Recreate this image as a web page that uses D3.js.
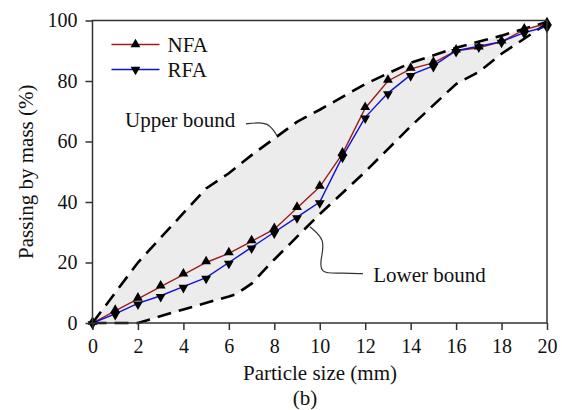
<!DOCTYPE html>
<html>
<head>
<meta charset="utf-8">
<script src="https://cdn.jsdelivr.net/npm/d3@7"></script>
<style>
    body { margin: 0; background: #fff; }
    text { font-family: "Liberation Serif", "Times New Roman", serif; fill: #111; }
</style>
</head>
<body>
<div id="chart"></div>
<script>
// particle sizes (mm)
let sizes = d3.range(0, 21);

// passing by mass (%)
let nfa = [0, 4, 8, 12, 16, 20, 23, 27, 31, 38, 45, 56, 71, 80, 84, 86, 90, 91, 93, 97, 99];
let rfa = [0, 3, 6.5, 9, 12, 15, 20, 25, 30, 35, 40, 55, 68, 76, 82, 85, 90, 91.5, 93, 96, 98];

// grading envelope
let upperX = [0, 2, 5, 6, 7, 8, 9, 10, 12, 14, 16, 18, 20];
let upperY = [0, 20, 44.5, 49.5, 55.5, 61, 66.5, 70.5, 79, 86, 91, 95, 99.5];
let lowerX = [0, 2, 4, 6, 6.3, 7, 8, 10, 12, 14, 16, 17, 18, 20];
let lowerY = [0, 0, 4.5, 8.8, 9.5, 13, 21, 36, 50, 65, 79, 83, 89, 99];

let xTicks = d3.range(0, 21, 2);
let yTicks = d3.range(0, 101, 20);

let margin = {top: 20.5, right: 15, bottom: 87, left: 92.5};
let width = 562 - margin.left - margin.right;
let height = 410 - margin.top - margin.bottom;

let svg = d3.select("#chart").append("svg")
    .attr("width", 562)
    .attr("height", 410);

let g = svg.append("g")
    .attr("transform", `translate(${margin.left}, ${margin.top})`);

let x = d3.scaleLinear().domain([0, 20]).range([0, width]);
let y = d3.scaleLinear().domain([0, 100]).range([height, 0]);

// shaded area between the bounds
let upper = upperX.map((d, i) => [d, upperY[i]]);
let lower = lowerX.map((d, i) => [d, lowerY[i]]);
let envelope = upper.concat(lower.slice().reverse());

g.append("path")
    .datum(envelope)
    .attr("fill", "#ececec")
    .attr("d", d3.line().x(d => x(d[0])).y(d => y(d[1])));

let line = d3.line().x(d => x(d[0])).y(d => y(d[1]));

[upper, lower].forEach(b => {
    g.append("path")
        .datum(b)
        .attr("fill", "none")
        .attr("stroke", "#000")
        .attr("stroke-width", 2.6)
        .attr("stroke-dasharray", "14,8")
        .attr("d", line);
});

// series lines
let nfaPts = sizes.map((d, i) => [d, nfa[i]]);
let rfaPts = sizes.map((d, i) => [d, rfa[i]]);

g.append("path").datum(nfaPts)
    .attr("fill", "none").attr("stroke", "#9a1f1a").attr("stroke-width", 1.4)
    .attr("d", line);
g.append("path").datum(rfaPts)
    .attr("fill", "none").attr("stroke", "#1010d0").attr("stroke-width", 1.4)
    .attr("d", line);

let tri = d3.symbol().type(d3.symbolTriangle).size(42);

g.selectAll(".nfa-mark").data(nfaPts).enter().append("path")
    .attr("class", "nfa-mark")
    .attr("d", tri)
    .attr("fill", "#000")
    .attr("transform", d => `translate(${x(d[0])}, ${y(d[1]) - 1})`);

g.selectAll(".rfa-mark").data(rfaPts).enter().append("path")
    .attr("class", "rfa-mark")
    .attr("d", tri)
    .attr("fill", "#000")
    .attr("transform", d => `translate(${x(d[0])}, ${y(d[1]) + 1}) rotate(180)`);

// frame
g.append("rect")
    .attr("width", width).attr("height", height)
    .attr("fill", "none").attr("stroke", "#333").attr("stroke-width", 1.5);

// axes
let xAxis = g.append("g")
    .attr("transform", `translate(0, ${height})`)
    .call(d3.axisBottom(x).tickValues(xTicks).tickSize(7).tickPadding(9));
let yAxis = g.append("g")
    .call(d3.axisLeft(y).tickValues(yTicks).tickSize(7).tickPadding(8));

[xAxis, yAxis].forEach(a => {
    a.select(".domain").remove();
    a.selectAll("line").attr("stroke", "#333").attr("stroke-width", 1.5);
    a.selectAll("text")
        .style("font-family", '"Liberation Serif", "Times New Roman", serif')
        .style("font-size", "20px")
        .attr("fill", "#111");
});

// axis titles
svg.append("text")
    .attr("x", 320).attr("y", 380)
    .attr("text-anchor", "middle")
    .style("font-size", "21px")
    .text("Particle size (mm)");

svg.append("text")
    .attr("x", 305).attr("y", 405)
    .attr("text-anchor", "middle")
    .style("font-size", "21px")
    .text("(b)");

svg.append("text")
    .attr("transform", `translate(33, ${margin.top + height / 2}) rotate(-90)`)
    .attr("text-anchor", "middle")
    .style("font-size", "21px")
    .text("Passing by mass (%)");

// legend
let legend = g.append("g").attr("transform", "translate(19, 24)");
let legendItems = [
    {name: "NFA", color: "#9a1f1a", rot: 0},
    {name: "RFA", color: "#1010d0", rot: 180}
];
legendItems.forEach((d, i) => {
    let row = legend.append("g").attr("transform", `translate(0, ${i * 25})`);
    row.append("line")
        .attr("x1", 0).attr("x2", 48)
        .attr("stroke", d.color).attr("stroke-width", 1.4);
    row.append("path")
        .attr("d", tri)
        .attr("fill", "#000")
        .attr("transform", `translate(24, 0) rotate(${d.rot})`);
    row.append("text")
        .attr("x", 56).attr("dy", "0.35em")
        .style("font-size", "21px")
        .text(d.name);
});

// annotations
let curve = d3.line().x(d => x(d[0])).y(d => y(d[1])).curve(d3.curveBasis);

g.append("text")
    .attr("x", x(1.43)).attr("y", y(64.8))
    .style("font-size", "21px")
    .text("Upper bound");

g.append("path")
    .datum([[6.75, 65.8], [7.3, 66.3], [7.8, 65.8], [8.12, 61.9]])
    .attr("fill", "none").attr("stroke", "#333").attr("stroke-width", 1.2)
    .attr("d", curve);

g.append("text")
    .attr("x", x(12.35)).attr("y", y(13.4))
    .style("font-size", "21px")
    .text("Lower bound");

g.append("path")
    .datum([[11.9, 16.3], [10.9, 16.6], [10.0, 16.2], [10.05, 21.5], [10.25, 27.5], [9.57, 31.8]])
    .attr("fill", "none").attr("stroke", "#333").attr("stroke-width", 1.2)
    .attr("d", curve);
</script>
</body>
</html>
